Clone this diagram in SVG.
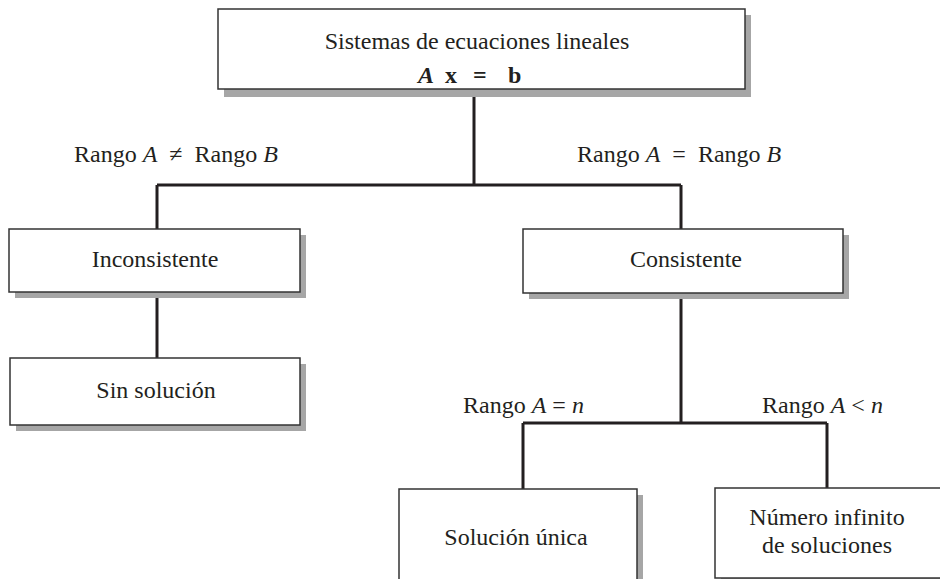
<svg xmlns="http://www.w3.org/2000/svg" width="940" height="579" viewBox="0 0 940 579">
<style>
.box{fill:#fff;stroke:#333;stroke-width:1.5}
.sh{fill:#a6a6a6}
text{font-size:24px;fill:#231f20}
.c{text-anchor:middle}
.i{font-style:italic}
.b{font-weight:bold}
.con{fill:none;stroke:#231f20;stroke-width:3}
</style>
<rect width="940" height="579" fill="#fff"/>
<g id="connectors">
<path class="con" d="M474 89V185M157 185H681M157 185V229M681 185V229"/>
<path class="con" d="M157 292V358"/>
<path class="con" d="M681 293V423M523 423H827M523 423V489M827 423V488"/>
</g>
<g id="labels" font-family="Liberation Serif, DejaVu Serif, serif">
<text x="74" y="162">Rango <tspan class="i">A</tspan><tspan dx="12">≠</tspan><tspan dx="12">Rango </tspan><tspan class="i">B</tspan></text>
<text x="577" y="162">Rango <tspan class="i">A</tspan><tspan dx="12">=</tspan><tspan dx="12">Rango </tspan><tspan class="i">B</tspan></text>
<text x="463" y="413">Rango <tspan class="i">A</tspan> = <tspan class="i">n</tspan></text>
<text x="762" y="413">Rango <tspan class="i">A</tspan> &lt; <tspan class="i">n</tspan></text>
</g>
<g id="top" font-family="Liberation Serif, DejaVu Serif, serif">
<rect class="sh" x="224" y="15" width="527" height="82"/>
<rect class="box" x="218" y="9" width="527" height="80"/>
<text class="c" x="477" y="49">Sistemas de ecuaciones lineales</text>
<text class="b" y="83"><tspan class="i" x="418">A</tspan><tspan x="445">x</tspan><tspan x="473">=</tspan><tspan x="508">b</tspan></text>
</g>
<g id="inconsistente" font-family="Liberation Serif, DejaVu Serif, serif">
<rect class="sh" x="15" y="235" width="291" height="63"/>
<rect class="box" x="9" y="229" width="291" height="63"/>
<text class="c" x="155" y="267">Inconsistente</text>
</g>
<g id="consistente" font-family="Liberation Serif, DejaVu Serif, serif">
<rect class="sh" x="529" y="235" width="320" height="64"/>
<rect class="box" x="523" y="229" width="320" height="64"/>
<text class="c" x="686" y="267">Consistente</text>
</g>
<g id="sinsolucion" font-family="Liberation Serif, DejaVu Serif, serif">
<rect class="sh" x="16" y="364" width="290" height="67"/>
<rect class="box" x="10" y="358" width="290" height="67"/>
<text class="c" x="156" y="398">Sin solución</text>
</g>
<g id="unica" font-family="Liberation Serif, DejaVu Serif, serif">
<rect class="sh" x="405" y="495" width="238" height="100"/>
<rect class="box" x="399" y="489" width="238" height="100"/>
<text class="c" x="516" y="545">Solución única</text>
</g>
<g id="infinito" font-family="Liberation Serif, DejaVu Serif, serif">
<rect class="sh" x="721" y="494" width="240" height="90"/>
<rect class="box" x="715" y="488" width="240" height="90"/>
<text class="c" x="827" y="525">Número infinito</text>
<text class="c" x="827" y="553">de soluciones</text>
</g>
</svg>
